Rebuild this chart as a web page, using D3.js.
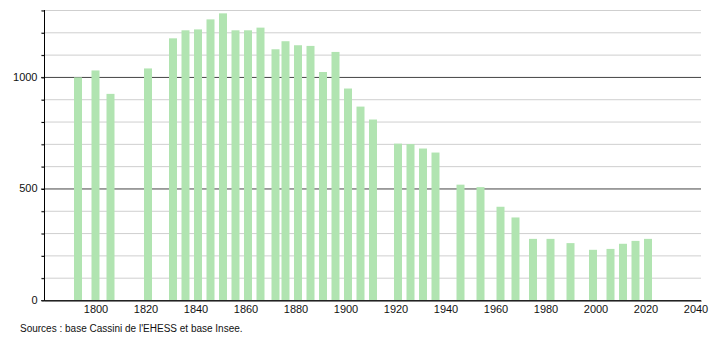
<!DOCTYPE html>
<html>
<head>
<meta charset="utf-8">
<script src="https://cdn.jsdelivr.net/npm/d3@7"></script>
<style>
  body { margin: 0; background: #fff; }
  text { font-family: "Liberation Sans", Arial, sans-serif; }
</style>
</head>
<body>
<script>
//Data
const years = [1793, 1800, 1806, 1821, 1831, 1836, 1841, 1846, 1851, 1856, 1861, 1866,
  1872, 1876, 1881, 1886, 1891, 1896, 1901, 1906, 1911, 1921, 1926, 1931, 1936,
  1946, 1954, 1962, 1968, 1975, 1982, 1990, 1999, 2006, 2011, 2016, 2021]
const population = [998, 1029, 924, 1038, 1173, 1209, 1213, 1258, 1285, 1209, 1209, 1221,
  1124, 1160, 1142, 1139, 1022, 1112, 948, 867, 809, 701, 699, 679, 661,
  517, 506, 418, 370, 274, 274, 255, 225, 229, 252, 265, 274]
const xTicks = [1800, 1820, 1840, 1860, 1880, 1900, 1920, 1940, 1960, 1980, 2000, 2020, 2040]
const yLabels = [0, 500, 1000]
const yGrid = d3.range(0, 1400, 100)

//Sizes
const w = 710
const h = 340
const padLeft = 44
const padRight = 701
const padTop = 10
const padBottom = 300

const svg = d3.select('body')
  .append('svg')
  .attr('width', w)
  .attr('height', h)

//Scales
const xScale = d3.scaleLinear()
  .domain([1779.4, 2042.2])
  .range([padLeft, padRight])

const yScale = d3.scaleLinear()
  .domain([0, 1300])
  .range([padBottom, padTop])

//Grid lines
svg.append('g')
  .selectAll('line')
  .data(yGrid)
  .enter()
  .append('line')
  .attr('x1', padLeft - 3)
  .attr('x2', padRight)
  .attr('y1', d => yScale(d) + 0.5)
  .attr('y2', d => yScale(d) + 0.5)
  .attr('stroke', d => (d % 500 === 0) ? '#444' : '#cfcfcf')
  .attr('stroke-width', 1)

//Bars
const barW = 8
svg.append('g')
  .selectAll('rect')
  .data(years)
  .enter()
  .append('rect')
  .attr('x', (d) => xScale(d) - barW / 2)
  .attr('y', (d, i) => yScale(population[i]))
  .attr('width', barW)
  .attr('height', (d, i) => padBottom - yScale(population[i]))
  .attr('fill', '#b1e4b1')

//Axes
const yAxis = d3.axisLeft(yScale).tickValues(yGrid).tickSize(3)
  .tickFormat(d => yLabels.includes(d) ? d : '')
const gy = svg.append('g')
  .attr('transform', 'translate(' + (padLeft + 0.5) + ',0)')
  .call(yAxis)
gy.select('.domain').attr('stroke', '#000').attr('d', 'M0,' + padTop + 'V' + (padBottom + 0.5))
gy.selectAll('.tick line').attr('stroke', '#000').attr('transform', 'translate(0,0.5)')
gy.selectAll('.tick text').attr('x', -7).attr('font-size', 11).attr('fill', '#111')
  .attr('font-family', '"Liberation Sans", Arial, sans-serif')

const xAxis = d3.axisBottom(xScale).tickValues(xTicks).tickSize(0).tickFormat(d3.format('d'))
const gx = svg.append('g')
  .attr('transform', 'translate(0,' + (padBottom + 0.5) + ')')
  .call(xAxis)
gx.select('.domain').attr('stroke', '#000')
gx.selectAll('.tick text').attr('y', 5).attr('font-size', 11).attr('fill', '#111')
  .attr('font-family', '"Liberation Sans", Arial, sans-serif')

//Source note
svg.append('text')
  .attr('x', 20)
  .attr('y', 332)
  .style('font-size', '10px')
  .attr('fill', '#111')
  .text("Sources : base Cassini de l'EHESS et base Insee.")
</script>
</body>
</html>
